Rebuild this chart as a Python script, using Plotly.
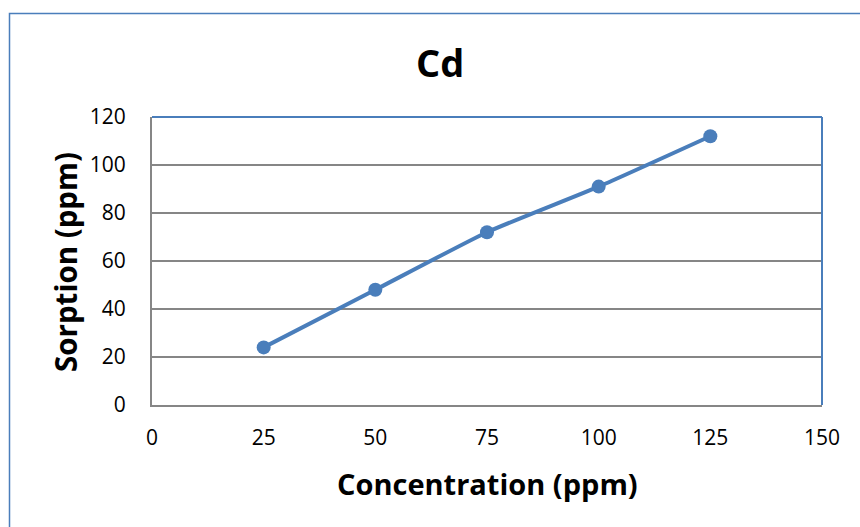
import plotly.graph_objects as go

concentration = [25, 50, 75, 100, 125]
sorption = [24, 48, 72, 91, 112]
x_ticks = [0, 25, 50, 75, 100, 125, 150]
y_ticks = [0, 20, 40, 60, 80, 100, 120]

W, H = 860, 527
L, R, T, B = 152, 822, 117, 405
pw, ph = R - L, B - T

def px(x):
    return (x - L) / pw

def py(y):
    return (B - y) / ph

FONT = "Open Sans"
blue = "#4a7ebb"
gray = "#868686"

fig = go.Figure()
fig.add_trace(go.Scatter(
    x=concentration, y=sorption, mode="lines+markers",
    line=dict(color=blue, width=4, shape="spline", smoothing=0.5),
    marker=dict(color=blue, size=14),
    showlegend=False, cliponaxis=False,
))

fig.update_layout(
    width=W, height=H,
    margin=dict(l=L, r=W - R, t=T, b=H - B),
    paper_bgcolor="white", plot_bgcolor="white",
    font=dict(family=FONT, color="black", size=18),
    xaxis=dict(range=[0, 150], tickvals=x_ticks, showgrid=False, zeroline=False,
               showline=True, linecolor=gray, linewidth=2,
               ticks="outside", ticklen=0, ticklabelstandoff=13,
               tickfont=dict(size=21, family=FONT)),
    yaxis=dict(range=[0, 120], tickvals=y_ticks, showgrid=True, gridcolor=gray, gridwidth=1.5,
               zeroline=False, showline=True, linecolor=gray, linewidth=2,
               ticks="outside", ticklen=0, ticklabelstandoff=20,
               tickfont=dict(size=21, family=FONT)),
    shapes=[
        dict(type="line", xref="paper", yref="paper", x0=0, x1=1, y0=1, y1=1,
             line=dict(color=blue, width=2)),
        dict(type="line", xref="paper", yref="paper", x0=1, x1=1, y0=0, y1=1,
             line=dict(color=blue, width=2)),
        dict(type="rect", xref="paper", yref="paper", x0=px(9.5), x1=px(875), y0=py(13.5), y1=py(545),
             line=dict(color=blue, width=1.5), layer="below"),
    ],
    annotations=[
        dict(text="<b>Cd</b>", xref="paper", yref="paper", x=px(440), y=py(62),
             showarrow=False, font=dict(size=38, family=FONT), xanchor="center", yanchor="middle"),
        dict(text="<b>Concentration (ppm)</b>", xref="paper", yref="paper", x=px(487), y=py(483),
             showarrow=False, font=dict(size=29, family=FONT), xanchor="center", yanchor="middle"),
        dict(text="<b>Sorption (ppm)</b>", xref="paper", yref="paper", x=px(65), y=py(262),
             showarrow=False, textangle=-90, font=dict(size=29.5, family=FONT),
             xanchor="center", yanchor="middle"),
    ],
)

fig.write_html("out.html")
